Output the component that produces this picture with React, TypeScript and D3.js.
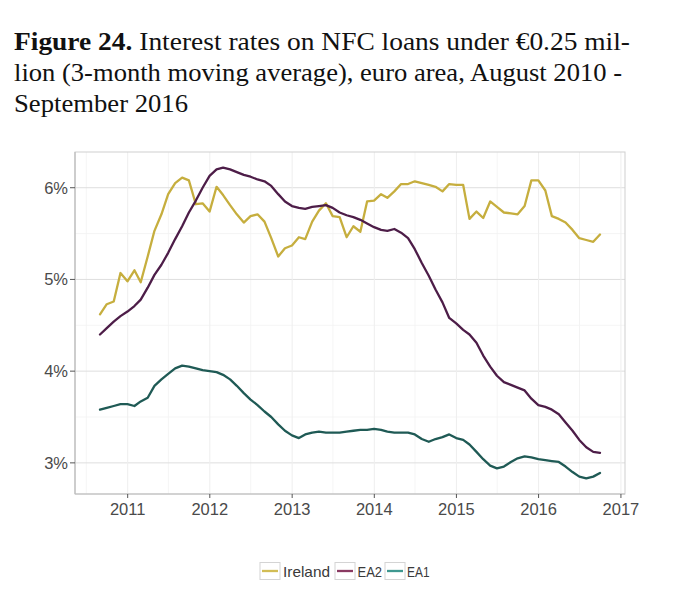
import React from 'react';
import * as d3 from 'd3';

// Monthly observations, August 2010 - September 2016 (plotted at month end)
const startMonth = new Date(2010, 7, 1);
const endMonth = new Date(2016, 8, 1);

const ireland = [
  4.62, 4.73, 4.76, 5.07, 4.98, 5.10, 4.97, 5.25, 5.53, 5.71, 5.93, 6.05,
  6.11, 6.08, 5.82, 5.83, 5.74, 6.01, 5.92, 5.81, 5.71, 5.62, 5.69, 5.71,
  5.63, 5.45, 5.25, 5.34, 5.37, 5.46, 5.44, 5.63, 5.75, 5.83, 5.69, 5.68,
  5.46, 5.58, 5.52, 5.85, 5.86, 5.93, 5.89, 5.96, 6.04, 6.04, 6.07, 6.05,
  6.03, 6.01, 5.96, 6.04, 6.03, 6.03, 5.66, 5.74, 5.67, 5.85, 5.79, 5.73,
  5.72, 5.71, 5.80, 6.08, 6.08, 5.97, 5.69, 5.66, 5.62, 5.54, 5.45, 5.43,
  5.41, 5.49,
];

const ea2 = [
  4.40, 4.47, 4.54, 4.60, 4.65, 4.71, 4.78, 4.91, 5.05, 5.16, 5.29, 5.44,
  5.58, 5.73, 5.86, 6.00, 6.13, 6.20, 6.22, 6.20, 6.17, 6.14, 6.12, 6.09,
  6.07, 6.02, 5.93, 5.85, 5.80, 5.78, 5.77, 5.79, 5.80, 5.81, 5.78, 5.73,
  5.70, 5.68, 5.65, 5.61, 5.57, 5.54, 5.53, 5.55, 5.51, 5.45, 5.33, 5.18,
  5.04, 4.89, 4.75, 4.58, 4.52, 4.45, 4.40, 4.31, 4.17, 4.05, 3.95, 3.88,
  3.85, 3.82, 3.79, 3.70, 3.63, 3.61, 3.58, 3.53, 3.44, 3.35, 3.25, 3.17,
  3.12, 3.11,
];

const ea1 = [
  3.58, 3.60, 3.62, 3.64, 3.64, 3.62, 3.67, 3.71, 3.84, 3.91, 3.97, 4.03,
  4.06, 4.05, 4.03, 4.01, 4.00, 3.99, 3.96, 3.91, 3.84, 3.76, 3.69, 3.63,
  3.56, 3.50, 3.42, 3.35, 3.30, 3.27, 3.31, 3.33, 3.34, 3.33, 3.33, 3.33,
  3.34, 3.35, 3.36, 3.36, 3.37, 3.36, 3.34, 3.33, 3.33, 3.33, 3.31, 3.26,
  3.23, 3.26, 3.28, 3.31, 3.27, 3.25, 3.20, 3.12, 3.04, 2.97, 2.94, 2.96,
  3.01, 3.05, 3.07, 3.06, 3.04, 3.03, 3.02, 3.01, 2.96, 2.90, 2.85, 2.83,
  2.85, 2.89,
];

const seriesNames = ['Ireland', 'EA2', 'EA1'];
const seriesData = [ireland, ea2, ea1];
const seriesColors = ['#c6ae3e', '#4d1d48', '#1f5a55'];
const legendColors = ['#d2bd55', '#8a3a62', '#3f9890'];

const yTicks = [3, 4, 5, 6];
const yMinor = [3.5, 4.5, 5.5];
const xTickYears = [2011, 2012, 2013, 2014, 2015, 2016, 2017];

const titleLine1Bold = 'Figure 24.';
const titleLine1 = ' Interest rates on NFC loans under €0.25 mil-';
const titleLine2 = 'lion (3-month moving average), euro area, August 2010 -';
const titleLine3 = 'September 2016';

const W = 700;
const H = 611;
const panel = { left: 75, right: 625, top: 152, bottom: 494 };

export default function App() {
  const months = d3.timeMonth.range(startMonth, d3.timeMonth.offset(endMonth, 1));
  const dates = months.map((m) => d3.timeDay.offset(d3.timeMonth.offset(m, 1), -1));

  const [d0, d1] = d3.extent(dates) as [Date, Date];
  const span = +d1 - +d0;
  const x = d3
    .scaleTime()
    .domain([new Date(+d0 - span * 0.05), new Date(+d1 + span * 0.05)])
    .range([panel.left, panel.right]);

  const all = seriesData.flat();
  const [vMin, vMax] = d3.extent(all) as [number, number];
  const vr = vMax - vMin;
  const y = d3
    .scaleLinear()
    .domain([vMin - vr * 0.05, vMax + vr * 0.05])
    .range([panel.bottom, panel.top]);

  const line = d3
    .line<number>()
    .x((_, i) => x(dates[i]))
    .y((v) => y(v));

  const xMajor = xTickYears.map((yr) => new Date(yr, 0, 1));
  const xMinorDates = xTickYears
    .map((yr) => new Date(yr - 1, 6, 1))
    .concat([new Date(2016, 6, 1)])
    .filter((d) => x(d) > panel.left && x(d) < panel.right);

  const font = "'Liberation Sans', Arial, Helvetica, sans-serif";
  const serif = "'Liberation Serif', 'Times New Roman', Times, serif";

  // Legend layout
  const legendY = 571;
  const legendItems = [
    { key: 260, text: 283, len: 47 },
    { key: 335, text: 357.5, len: 24.5 },
    { key: 385, text: 407, len: 22.5 },
  ];

  return (
    <svg
      width={W}
      height={H}
      style={{ position: 'absolute', left: 0, top: 0, background: '#fff' }}
    >
      <rect x={0} y={0} width={W} height={H} fill="#fff" />
      {/* Title */}
      <g fontFamily={serif} fontSize={26} fill="#111">
        <text x={14} y={50} textLength={616} lengthAdjust="spacingAndGlyphs">
          <tspan fontWeight="bold">{titleLine1Bold}</tspan>
          <tspan>{titleLine1}</tspan>
        </text>
        <text x={14} y={81} textLength={608} lengthAdjust="spacingAndGlyphs">
          {titleLine2}
        </text>
        <text x={14} y={112} textLength={174} lengthAdjust="spacingAndGlyphs">
          {titleLine3}
        </text>
      </g>

      {/* Minor grid */}
      <g stroke="#f2f2f2" strokeWidth={0.8}>
        {yMinor.map((v) => (
          <line key={'ym' + v} x1={panel.left} x2={panel.right} y1={y(v)} y2={y(v)} />
        ))}
        {xMinorDates.map((d, i) => (
          <line key={'xm' + i} x1={x(d)} x2={x(d)} y1={panel.top} y2={panel.bottom} />
        ))}
      </g>
      {/* Major grid */}
      <g stroke="#dedede" strokeWidth={1}>
        {yTicks.map((v) => (
          <line key={'y' + v} x1={panel.left} x2={panel.right} y1={y(v)} y2={y(v)} />
        ))}
      </g>
      <g stroke="#eeeeee" strokeWidth={1}>
        {xMajor
          .filter((d) => x(d) < panel.right)
          .map((d, i) => (
            <line key={'x' + i} x1={x(d)} x2={x(d)} y1={panel.top} y2={panel.bottom} />
          ))}
      </g>

      {/* Series */}
      {seriesData.map((s, i) => (
        <path
          key={seriesNames[i]}
          d={line(s) || ''}
          fill="none"
          stroke={seriesColors[i]}
          strokeWidth={2.3}
          strokeLinejoin="round"
          strokeLinecap="round"
        />
      ))}

      {/* Panel border */}
      <rect
        x={panel.left}
        y={panel.top}
        width={panel.right - panel.left}
        height={panel.bottom - panel.top}
        fill="none"
        stroke="#cfcfcf"
        strokeWidth={1}
      />
      <line x1={panel.left} x2={panel.left} y1={panel.top} y2={panel.bottom} stroke="#bdbdbd" strokeWidth={1.2} />
      <line x1={panel.left} x2={panel.right} y1={panel.bottom} y2={panel.bottom} stroke="#bdbdbd" strokeWidth={1.2} />

      {/* Y axis */}
      <g fontFamily={font} fontSize={16.5} fill="#4a4a4a">
        {yTicks.map((v) => (
          <g key={'yt' + v}>
            <line x1={panel.left - 5} x2={panel.left} y1={y(v)} y2={y(v)} stroke="#555" strokeWidth={1} />
            <text x={panel.left - 7} y={y(v)} textAnchor="end" dominantBaseline="central">
              {`${v}%`}
            </text>
          </g>
        ))}
      </g>

      {/* X axis */}
      <g fontFamily={font} fontSize={16.5} fill="#4a4a4a">
        {xMajor.map((d, i) => (
          <g key={'xt' + i}>
            <line x1={x(d)} x2={x(d)} y1={panel.bottom} y2={panel.bottom + 4} stroke="#555" strokeWidth={1} />
            <text x={x(d)} y={515} textAnchor="middle">
              {xTickYears[i]}
            </text>
          </g>
        ))}
      </g>

      {/* Legend */}
      <g fontFamily={font} fontSize={15} fill="#3a3a3a">
        {seriesNames.map((name, i) => (
          <g key={'lg' + name}>
            <rect
              x={legendItems[i].key}
              y={legendY - 8.5}
              width={20}
              height={17}
              fill="#fff"
              stroke="#d4d4d4"
              strokeWidth={1}
            />
            <line
              x1={legendItems[i].key + 2}
              x2={legendItems[i].key + 18}
              y1={legendY}
              y2={legendY}
              stroke={legendColors[i]}
              strokeWidth={2.3}
            />
            <text
              x={legendItems[i].text}
              y={legendY}
              dominantBaseline="central"
              textLength={legendItems[i].len}
              lengthAdjust="spacingAndGlyphs"
            >
              {name}
            </text>
          </g>
        ))}
      </g>
    </svg>
  );
}
